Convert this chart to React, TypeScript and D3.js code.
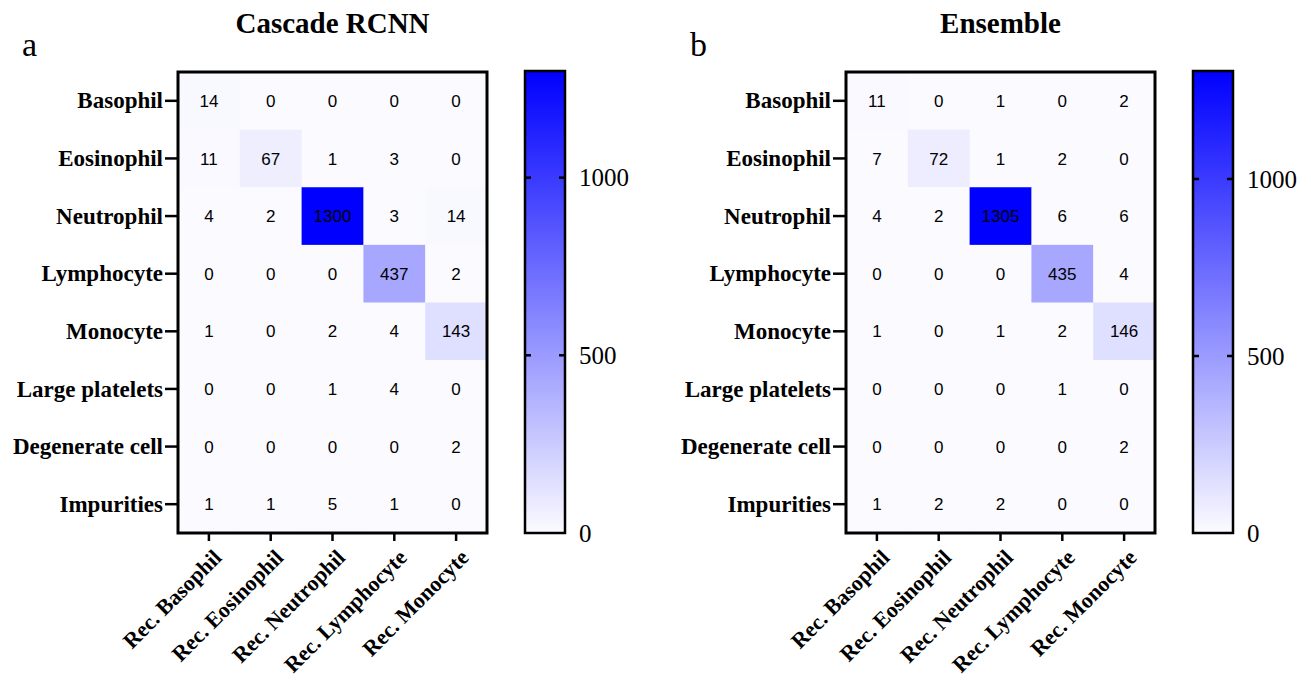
import React from "react";
import * as d3 from "d3";

const rowLabels = ["Basophil", "Eosinophil", "Neutrophil", "Lymphocyte", "Monocyte", "Large platelets", "Degenerate cell", "Impurities"];
const colLabels = ["Rec. Basophil", "Rec. Eosinophil", "Rec. Neutrophil", "Rec. Lymphocyte", "Rec. Monocyte"];

const cascadeValues = [
  [14, 0, 0, 0, 0],
  [11, 67, 1, 3, 0],
  [4, 2, 1300, 3, 14],
  [0, 0, 0, 437, 2],
  [1, 0, 2, 4, 143],
  [0, 0, 1, 4, 0],
  [0, 0, 0, 0, 2],
  [1, 1, 5, 1, 0],
];
const ensembleValues = [
  [11, 0, 1, 0, 2],
  [7, 72, 1, 2, 0],
  [4, 2, 1305, 6, 6],
  [0, 0, 0, 435, 4],
  [1, 0, 1, 2, 146],
  [0, 0, 0, 1, 0],
  [0, 0, 0, 0, 2],
  [1, 2, 2, 0, 0],
];
const colorbarTicks = [0, 500, 1000];

const panels = [
  { letter: "a", title: "Cascade RCNN", values: cascadeValues, x0: 178, max: 1300 },
  { letter: "b", title: "Ensemble", values: ensembleValues, x0: 846, max: 1305 },
];

const SERIF = "'Liberation Serif', 'Times New Roman', serif";
const SANS = "'Liberation Sans', Arial, sans-serif";

function Panel({ p, idx }: { p: any; idx: number }) {
  const top = 72, bottom = 533, width = 309;
  const x = d3.scaleBand<string>().domain(colLabels).range([p.x0, p.x0 + width]);
  const y = d3.scaleBand<string>().domain(rowLabels).range([top, bottom]);
  const color = d3.scaleLinear<string>().domain([0, p.max]).range(["#fbfbff", "#0000ff"]);
  const cbX = p.x0 + 347, cbW = 40;
  const cbScale = d3.scaleLinear().domain([0, p.max]).range([bottom, 71]);
  const gradId = "grad" + idx;
  return (
    <g>
      <text x={p.x0 - 156} y={56} fontFamily={SERIF} fontSize={34}>{p.letter}</text>
      <text x={p.x0 + width / 2} y={33} textAnchor="middle" fontFamily={SERIF} fontWeight="bold" fontSize={29}>{p.title}</text>
      {p.values.map((row: number[], i: number) =>
        row.map((v, j) => (
          <g key={i + "-" + j}>
            <rect x={x(colLabels[j])} y={y(rowLabels[i])} width={x.bandwidth() + 0.5} height={y.bandwidth() + 0.5} fill={color(v)} />
            <text x={x(colLabels[j])! + x.bandwidth() / 2} y={y(rowLabels[i])! + y.bandwidth() / 2} dy="0.36em" textAnchor="middle" fontFamily={SANS} fontSize={17} fill="#000">{v}</text>
          </g>
        ))
      )}
      <rect x={p.x0} y={top} width={width} height={bottom - top} fill="none" stroke="#000" strokeWidth={3} />
      {rowLabels.map((r) => (
        <g key={r}>
          <line x1={p.x0 - 13} x2={p.x0} y1={y(r)! + y.bandwidth() / 2} y2={y(r)! + y.bandwidth() / 2} stroke="#000" strokeWidth={2.5} />
          <text x={p.x0 - 15} y={y(r)! + y.bandwidth() / 2} dy="0.33em" textAnchor="end" fontFamily={SERIF} fontWeight="bold" fontSize={23}>{r}</text>
        </g>
      ))}
      {colLabels.map((c) => {
        const cx = x(c)! + x.bandwidth() / 2;
        return (
          <g key={c}>
            <line x1={cx} x2={cx} y1={bottom} y2={bottom + 8} stroke="#000" strokeWidth={2.5} />
            <text transform={`translate(${cx + 3},${bottom + 15}) rotate(-45)`} textAnchor="end" dy="0.7em" fontFamily={SERIF} fontWeight="bold" fontSize={22}>{c}</text>
          </g>
        );
      })}
      <defs>
        <linearGradient id={gradId} x1="0" y1="1" x2="0" y2="0">
          <stop offset="0" stopColor={color(0)} />
          <stop offset="1" stopColor={color(p.max)} />
        </linearGradient>
      </defs>
      <rect x={cbX} y={71} width={cbW} height={bottom - 71} fill={`url(#${gradId})`} stroke="#000" strokeWidth={2.5} />
      {colorbarTicks.map((t) => (
        <g key={t}>
          {t > 0 && (
            <>
              <line x1={cbX} x2={cbX + 6} y1={cbScale(t)} y2={cbScale(t)} stroke="#000" strokeWidth={2.5} />
              <line x1={cbX + cbW - 6} x2={cbX + cbW} y1={cbScale(t)} y2={cbScale(t)} stroke="#000" strokeWidth={2.5} />
            </>
          )}
          <text x={cbX + cbW + 14} y={cbScale(t)} dy="0.35em" fontFamily={SERIF} fontSize={25}>{t}</text>
        </g>
      ))}
    </g>
  );
}

export default function App() {
  return (
    <svg width={1311} height={684} style={{ position: "absolute", left: 0, top: 0, background: "#fff" }}>
      <rect width={1311} height={684} fill="#fff" />
      {panels.map((p, i) => (
        <Panel key={p.letter} p={p} idx={i} />
      ))}
    </svg>
  );
}
